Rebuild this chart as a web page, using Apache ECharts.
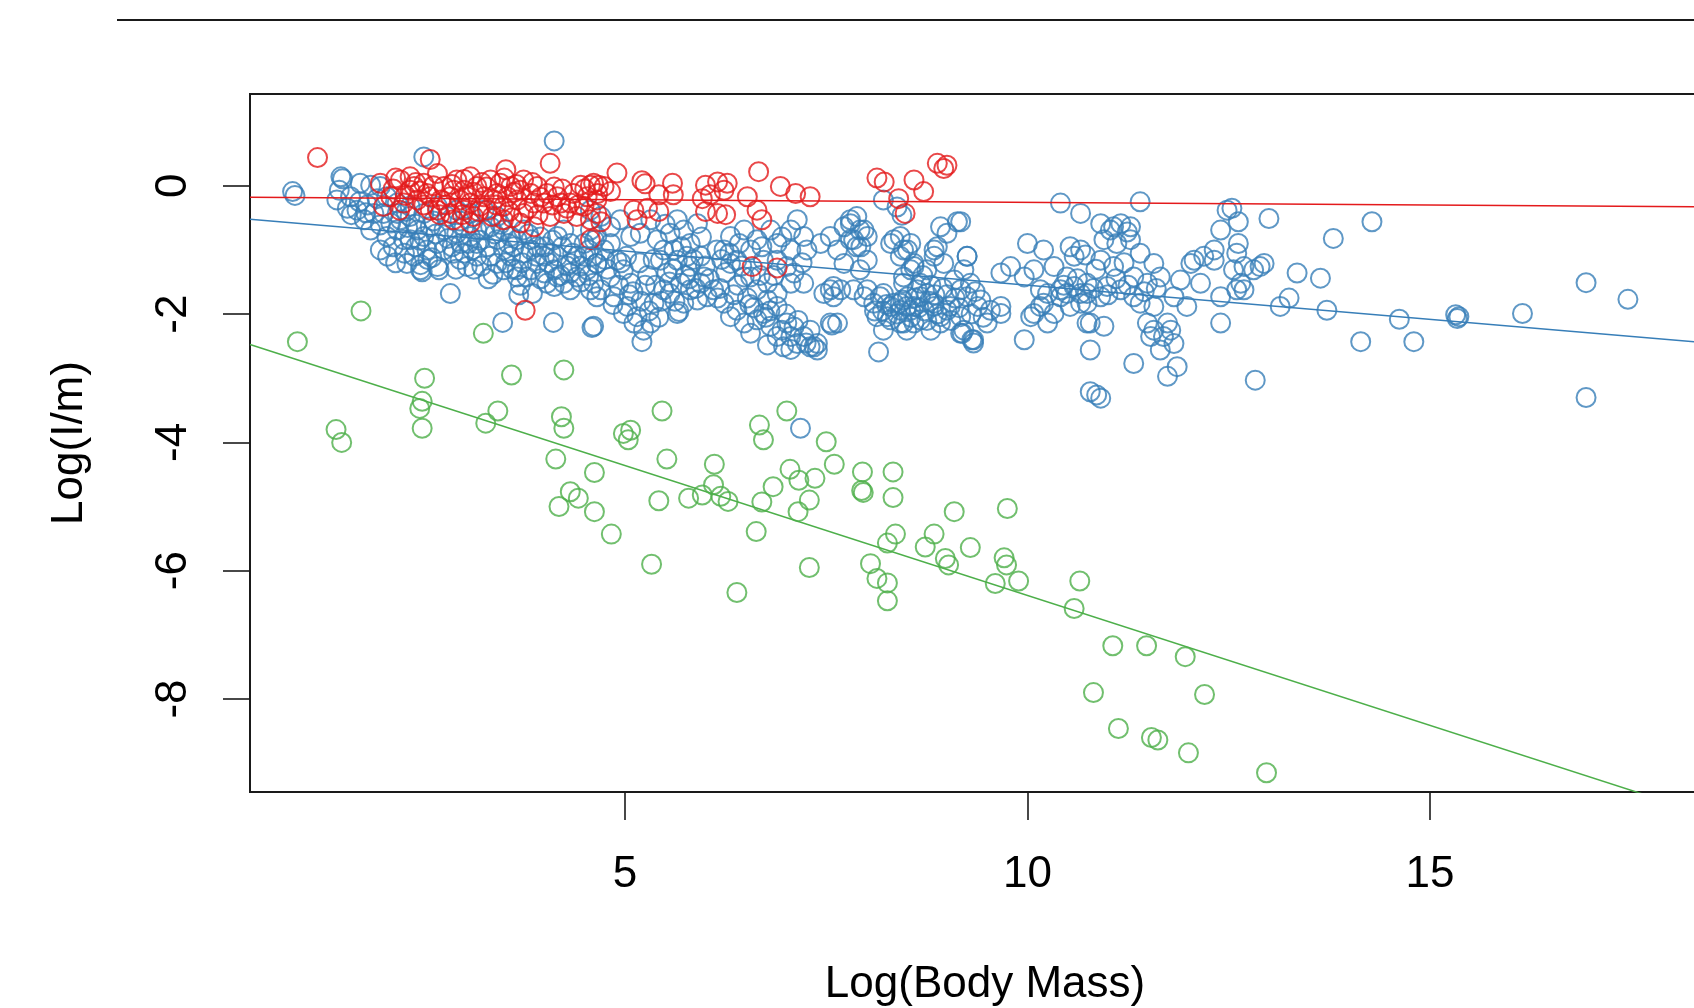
<!DOCTYPE html>
<html>
<head>
<meta charset="utf-8">
<script src="https://cdn.jsdelivr.net/npm/echarts@6/dist/echarts.min.js"></script>
<style>
html, body { margin: 0; padding: 0; background: #fff; }
#chart { width: 1694px; height: 1008px; }
</style>
</head>
<body>
<div id="chart"></div>
<script>
// scatter: Log(I/m) vs Log(Body Mass), three groups + fitted lines

var xTicks = [5, 10, 15];
var yTicks = [0, -2, -4, -6, -8];
var xRange = [0.341, 18.604];
var yRange = [-9.45, 1.431];

var groupColors = ['#377EB8', '#E41A1C', '#4DAF4A'];
// fitted lines: intercept, slope (blue, red, green)
var lineIntercepts = [-0.484, -0.177, -2.336];
var lineSlopes = [-0.1065, -0.0081, -0.405];

var bluePts = [
  [0.87,-0.09],[0.90,-0.15],[1.47,0.14],[1.49,0.11],[1.45,-0.07],[1.42,-0.22],[1.59,-0.17],[1.71,0.04],[1.84,0.01],[1.96,-0.01],
  [1.55,-0.35],[1.67,-0.38],[1.80,-0.30],[1.88,-0.43],[1.76,-0.53],[1.96,-0.61],[1.84,-0.69],[1.96,-1.0],[2.04,-0.79],[2.17,-0.69],
  [2.29,-1.21],[2.33,-0.84],[2.42,-0.69],[2.17,-0.43],[2.33,-0.32],[2.46,-1.23],[2.48,-1.34],[2.50,0.45],[2.54,-1.0],[2.67,-0.90],
  [2.75,-0.69],[2.58,-0.64],[2.50,-0.79],[2.67,-1.26],[2.83,-1.68],[2.87,-1.05],[2.96,-0.90],[2.91,-0.74],[3.08,-0.79],[3.04,-1.26],
  [3.16,-1.10],[3.29,-0.95],[3.25,-0.69],[3.41,-0.84],[3.49,-1.0],[3.58,-1.10],[3.41,-1.21],[3.08,-0.43],[3.25,-0.38],[3.41,-0.48],
  [2.91,-0.38],[3.68,-1.70],[3.85,-1.68],[3.66,-1.31],[3.78,-1.42],[3.91,-1.21],[3.74,-1.05],[3.91,-0.95],[4.0,-1.10],[4.12,-1.31],
  [4.16,-1.42],[4.03,-1.52],[4.12,-1.57],[3.48,-2.13],[4.11,-2.13],[4.59,-2.21],[4.12,0.70],[4.4,-1.10],[4.53,-1.31],[4.61,-1.52],
  [4.32,-1.36],[4.49,-0.90],[4.57,-0.69],[4.16,-0.79],[4.24,-0.69],[4.32,-0.90],[3.74,-0.69],[3.58,-0.79],[3.83,-0.84],
  [2.38,-1.10],[2.46,-1.31],[2.69,-1.31],
  [3.0,-0.64],[3.16,-0.69],[3.33,-0.64],[3.49,-0.69],[3.66,-0.84],[3.83,-1.0],[4.0,-0.95],[4.16,-1.10],[4.32,-1.21],[4.49,-1.10],
  [4.65,-1.21],[3.16,-0.90],[3.33,-1.10],[3.49,-1.31],[3.66,-1.42],[3.83,-1.31],[4.0,-1.36],[4.24,-1.52],[4.40,-1.42],[4.57,-1.62],
  [4.65,-1.73],[4.32,-1.62],
  [2.04,-0.17],[2.17,-0.27],[2.33,-0.48],[2.50,-0.43],[2.67,-0.32],[2.79,-0.48],[2.0,-0.43],[2.09,-0.58],[2.21,-0.53],[2.25,-0.84],
  [2.12,-0.95],[2.26,-1.05],[2.40,-0.95],[2.60,-1.12],[2.75,-1.00],[2.80,-0.82],[2.95,-1.15],[3.10,-1.00],[3.22,-1.25],[3.36,-1.38],
  [3.52,-1.20],[3.62,-0.95],[3.70,-1.55],[3.95,-1.45],[4.08,-1.05],[4.22,-0.95],[4.28,-1.25],[4.45,-1.25],[4.55,-1.0],[4.62,-0.85],
  [3.95,-0.80],[3.45,-0.60],[2.95,-0.55],[2.62,-0.55],[2.40,-0.60],[2.28,-0.40],[1.92,-0.20],[1.70,-0.25],[1.60,-0.45],[1.78,-0.42],
  [2.05,-1.10],[2.15,-1.20],[2.30,-0.65],[2.45,-0.85],[2.55,-1.15],[2.65,-0.75],[2.85,-0.95],[2.90,-1.30],[3.00,-1.05],[3.05,-0.90],
  [3.12,-1.30],[3.20,-0.85],[3.30,-1.45],[3.38,-0.75],[3.55,-0.90],[3.60,-1.30],[3.72,-1.20],[3.80,-0.75],[3.90,-1.10],[4.05,-1.20],
  [4.10,-0.85],[4.20,-1.40],[4.35,-1.05],[4.45,-1.50],[4.55,-1.40],[4.60,-1.10],
  [4.61,-2.19],[4.65,-1.21],[4.74,-1.0],[4.82,-1.42],[4.90,-1.16],[4.98,-1.31],[5.07,-1.52],[4.70,-1.62],[4.86,-1.73],[5.03,-1.88],
  [5.15,-2.04],[5.23,-2.25],[5.21,-2.43],[4.98,-1.99],[5.11,-2.14],[5.32,-2.14],[5.36,-1.83],
  [5.19,-0.74],[5.32,-0.53],[5.40,-0.84],[5.48,-1.0],[5.56,-0.74],[5.65,-0.53],[5.73,-0.69],[5.81,-0.90],[5.90,-0.59],[5.65,-1.16],
  [5.52,-1.36],[5.69,-1.52],[5.81,-1.26],[5.94,-1.10],[5.56,-1.68],[5.73,-1.83],[5.90,-1.78],[5.65,-1.99],
  [5.98,-1.42],[6.10,-1.62],[6.23,-1.83],[6.31,-2.04],[6.39,-1.94],[6.48,-2.14],[6.56,-2.30],[6.64,-2.09],[6.72,-1.99],[6.81,-2.19],
  [6.89,-2.35],[6.97,-2.51],[7.06,-2.35],[7.14,-2.46],[7.22,-2.35],[7.30,-2.51],[7.39,-2.56],[7.01,-2.14],[6.89,-1.88],[6.77,-1.78],
  [6.77,-2.48],[7.06,-2.55],[5.67,-1.96],
  [4.78,-1.30],[4.92,-1.55],[5.05,-1.70],[5.20,-1.80],[5.30,-1.95],[5.42,-2.05],[5.02,-1.10],[5.18,-1.20],[5.28,-1.40],[5.38,-1.55],
  [5.60,-1.30],[5.75,-1.40],[5.88,-1.60],[6.05,-1.45],[6.18,-1.60],[6.25,-1.35],[6.40,-1.55],[6.52,-1.75],[6.60,-1.90],[6.75,-2.05],
  [6.95,-2.25],[7.10,-2.20],[7.25,-2.45],[6.42,-0.90],[6.70,-0.95],[6.95,-0.80],[6.30,-1.05],[5.95,-0.80],[5.70,-0.95],[5.50,-0.60],
  [4.75,-1.15],[4.85,-1.85],[4.95,-1.20],[5.10,-1.65],[5.25,-1.55],[5.35,-1.15],[5.45,-1.80],[5.55,-1.50],[5.62,-1.80],[5.80,-1.45],
  [5.85,-1.15],[6.00,-1.25],[6.15,-1.75],[6.20,-1.15],[6.35,-1.70],[6.45,-1.25],[6.55,-1.85],[6.68,-1.40],[6.80,-1.95],[6.85,-1.40],
  [7.00,-2.00],[7.15,-2.10],[7.20,-1.20],[7.30,-2.25],
  [6.31,-0.79],[6.48,-0.69],[6.23,-1.0],[6.39,-1.16],[6.56,-1.0],[6.64,-0.84],[6.81,-0.69],[6.89,-0.90],[7.06,-0.69],[7.14,-0.53],
  [7.22,-0.79],[6.72,-1.16],[6.56,-1.42],[6.89,-1.16],[7.06,-1.0],[7.26,-1.0],
  [7.06,-1.52],[7.22,-1.52],[7.10,-1.36],[7.01,-1.26],[7.47,-1.68],[7.59,-1.57],[7.64,-2.14],
  [7.43,-0.90],[7.55,-0.79],[7.72,-0.64],[7.80,-0.53],[7.88,-0.48],[7.92,-0.69],[7.80,-0.84],[7.64,-1.0],[7.88,-0.95],[8.01,-1.16],
  [7.92,-1.31],[7.72,-1.21],
  [7.84,-1.62],[7.97,-1.73],[8.09,-1.83],[8.21,-1.68],[8.30,-1.88],[8.42,-1.94],[8.51,-1.73],[8.59,-1.88],[8.13,-2.04],[8.30,-2.09],
  [8.46,-2.14],[8.21,-2.25],[8.63,-1.62],[8.46,-1.52],[8.55,-1.31],[8.34,-0.84],[8.46,-1.0],[8.55,-0.90],
  [8.15,-2.59],[7.55,-2.14],[8.21,-0.22],[8.38,-0.33],
  [4.57,-0.38],[4.70,-0.48],[4.82,-0.64],[4.94,-0.53],[5.07,-0.79],[4.82,-0.90],[4.65,-0.79],
  [5.44,-1.16],[5.61,-1.0],[5.77,-1.10],[5.94,-1.52],[6.02,-1.73],[5.81,-1.62],[5.48,-1.62],
  [6.14,-1.0],[6.31,-1.21],[6.48,-1.42],[6.64,-1.62],[6.77,-1.52],[6.89,-1.68],
  [7.35,-2.51],[7.39,-2.46],[7.57,-2.17],[9.19,-2.30],[9.33,-2.45],[8.59,-2.14],[8.80,-2.25],[8.44,-0.46],[8.88,-0.95],
  [7.80,-0.59],[7.97,-0.69],[7.84,-0.84],[7.93,-0.95],[8.01,-0.79],[7.55,-1.62],[7.68,-1.62],[7.59,-1.73],
  [8.01,-1.62],[8.17,-1.73],[8.34,-1.83],[8.50,-1.88],[8.67,-1.73],[8.84,-1.83],[9.0,-1.94],[9.17,-2.04],[8.26,-2.04],[8.42,-2.14],
  [8.67,-2.09],[8.92,-2.14],[9.25,-1.73],[9.38,-1.88],
  [8.20,-1.95],[8.38,-2.00],[8.55,-2.05],[8.72,-1.95],[8.88,-2.0],[9.05,-2.10],[8.60,-1.75],[8.78,-1.80],[9.10,-1.75],[8.95,-1.60],
  [8.80,-1.55],[8.70,-1.40],[9.35,-1.65],[9.45,-2.05],
  [8.10,-1.95],[8.25,-1.85],[8.45,-1.78],[8.65,-1.90],[8.85,-1.70],[9.00,-1.70],[9.15,-1.90],[9.30,-2.00],[8.50,-2.25],[8.75,-2.10],
  [8.30,-0.90],[8.42,-1.10],[8.59,-1.21],[8.75,-1.31],[8.84,-1.10],
  [8.92,-0.64],[9.13,-0.56],[9.0,-0.74],
  [8.42,-0.79],[8.51,-1.0],[8.59,-1.26],[8.67,-1.52],[8.75,-1.68],[8.46,-1.42],[8.42,-1.83],[8.55,-1.94],[8.92,-2.04],[8.84,-1.88],
  [9.04,-1.88],[9.17,-1.62],[9.29,-1.52],[9.21,-1.31],[9.25,-1.10],[9.09,-1.47],[8.96,-1.21],[8.84,-1.0],[9.42,-1.78],[9.54,-1.94],
  [9.67,-1.99],[9.50,-2.14],[9.21,-2.25],[9.33,-2.40],[9.17,-2.30],[9.96,-2.40],
  [9.67,-1.36],[9.79,-1.26],[9.96,-1.42],[10.08,-1.31],[10.0,-0.90],[10.2,-1.0],[10.33,-1.26],[10.49,-1.42],[10.25,-1.68],[10.16,-1.88],
  [10.33,-1.99],[10.08,-1.99],[10.41,-1.73],[10.53,-0.95],[10.66,-1.0],[10.58,-1.10],
  [10.66,-0.43],[10.91,-0.59],[11.03,-0.69],[11.16,-0.59],[11.28,-0.64],[11.11,-0.90],[10.95,-0.84],[11.28,-0.84],[11.40,-1.05],[11.57,-1.21],
  [11.65,-1.42],[11.49,-1.52],[11.32,-1.42],[11.07,-1.26],[10.91,-1.16],[10.74,-1.52],[10.99,-1.57],[11.16,-1.62],[11.32,-1.73],[10.91,-1.73],
  [10.74,-1.68],[10.58,-1.57],[10.49,-1.68],[11.40,-1.83],[11.57,-1.88],[10.66,-1.83],
  [10.45,-1.55],[10.62,-1.45],[10.82,-1.60],[11.00,-1.70],[11.10,-1.45],[11.25,-1.55],[11.45,-1.65],[11.60,-1.60],[10.85,-1.30],[11.20,-1.20],
  [10.41,-0.27],[11.40,-0.25],
  [11.98,-1.88],[11.82,-1.73],[11.90,-1.47],[12.07,-1.16],[12.19,-1.10],[12.32,-1.16],[12.03,-1.21],[12.15,-1.52],[12.40,-1.73],[12.32,-1.0],
  [12.40,-0.69],[12.48,-0.38],[12.40,-2.14],
  [10.78,-2.56],[11.32,-2.77],[11.86,-2.82],[11.74,-2.97],
  [11.49,-2.14],[11.57,-2.25],[11.69,-2.35],[11.78,-2.25],[11.82,-2.46],[11.65,-2.56],[11.74,-2.14],
  [10.74,-2.14],[10.95,-2.19],[11.53,-2.35],
  [9.17,-0.56],[9.25,-1.10],[10.72,-1.08],[10.41,-1.62],[10.16,-1.62],[10.04,-2.04],[10.20,-1.83],[10.25,-2.14],[10.53,-1.88],[10.66,-1.68],
  [10.74,-1.83],[10.78,-2.14],[9.31,-2.40],[9.67,-1.88],[11.07,-0.64],[11.24,-0.72],
  [12.65,-1.52],[12.56,-1.31],[12.69,-1.26],[12.81,-1.31],[12.89,-1.26],[12.94,-1.21],[12.60,-1.62],[12.69,-1.62],[12.60,-1.05],[12.62,-0.90],
  [12.62,-0.56],[12.54,-0.35],[13.0,-0.51],[12.83,-3.03],[13.25,-1.75],[13.64,-1.44],[13.35,-1.36],[13.72,-1.94],[13.80,-0.82],[13.14,-1.88],
  [14.28,-0.56],[14.14,-2.43],[14.62,-2.08],[14.80,-2.43],[15.32,-2.01],[15.34,-2.07],[15.36,-2.04],[16.15,-1.99],[16.94,-1.51],[17.46,-1.77],
  [16.94,-3.30],[7.18,-3.78],[10.78,-3.21],[10.86,-3.26],[10.91,-3.31]
];

var redPts = [
  [1.18,0.44],[2.58,0.41],[3.52,0.25],[4.07,0.35],[2.87,-0.53],[3.08,-0.58],[4.57,-0.84],[3.76,-1.94],
  [1.96,0.04],[2.09,-0.17],[2.21,0.09],[2.33,-0.07],[2.42,-0.22],[2.50,0.04],[2.58,-0.17],[2.67,-0.38],[2.75,-0.01],[2.83,-0.17],
  [2.91,0.09],[3.0,-0.07],[3.08,-0.27],[3.16,-0.01],[3.25,-0.17],[3.33,0.09],[3.41,-0.12],[3.49,-0.32],[3.58,-0.01],[3.66,-0.22],
  [3.74,-0.43],[3.83,-0.12],[3.91,-0.01],[3.99,-0.27],[4.07,-0.48],[4.16,-0.17],[4.24,-0.43],[4.32,-0.27],[4.40,-0.48],[4.49,-0.32],
  [4.57,-0.53],[4.65,-0.43],[2.25,-0.27],[2.0,-0.32],[2.33,0.14],[2.67,0.19],[3.0,-0.38],[3.29,-0.38],[3.49,-0.53],[3.70,-0.58],
  [3.87,-0.64],[2.83,-0.43],[2.58,-0.38],[3.12,-0.48],
  [2.38,-0.01],[2.54,-0.12],[2.71,-0.22],[2.87,-0.07],[3.04,-0.17],[3.20,-0.32],[3.37,-0.22],[3.54,-0.17],[3.70,-0.07],[3.87,-0.27],
  [4.03,-0.12],[4.20,-0.27],[4.36,-0.12],[4.53,-0.17],[3.45,0.04],[3.08,0.14],[3.74,0.09],
  [2.12,-0.05],[2.27,-0.15],[2.45,-0.08],[2.62,0.00],[2.78,-0.30],[2.95,-0.22],[3.12,-0.10],[3.28,-0.02],[3.40,-0.30],[3.56,-0.40],
  [3.62,-0.10],[3.80,-0.35],[3.95,-0.18],[4.10,-0.30],[4.22,-0.05],[4.28,-0.35],[2.20,-0.38],[2.50,-0.30],[2.70,-0.45],[2.98,-0.45],
  [3.18,-0.40],[3.35,-0.48],[3.60,-0.50],[3.92,-0.45],[2.85,0.02],[3.00,0.10],[3.22,0.05],[3.50,0.12],[3.65,0.02],[3.85,0.05],
  [2.40,0.05],[2.15,0.12],[4.12,-0.02],[4.42,-0.30],[4.50,-0.05],
  [4.45,0.01],[4.57,0.01],[4.67,0.01],[4.61,0.04],[4.74,-0.01],[4.65,-0.22],
  [4.90,0.20],[5.21,0.08],[5.25,0.03],[5.59,0.04],[5.60,-0.14],[5.42,-0.14],[5.42,-0.40],[5.28,-0.35],[5.11,-0.38],[5.15,-0.53],
  [4.70,-0.56],[4.66,-0.12],[4.82,-0.09],[6.0,0.01],[6.15,0.06],[6.27,0.04],[6.23,-0.07],[5.96,-0.20],[6.06,-0.14],[6.0,-0.40],
  [6.15,-0.43],[6.25,-0.45],[6.66,0.22],[6.52,-0.17],[6.64,-0.38],[6.70,-0.53],[6.93,-0.01],[7.12,-0.12],[7.30,-0.17],[6.58,-1.26],
  [6.89,-1.28],[8.13,0.12],[8.22,0.06],[8.40,-0.20],[8.48,-0.43],[8.59,0.09],[8.88,0.35],[8.96,0.27],[9.0,0.32],[8.71,-0.09]
];

var greenPts = [
  [0.93,-2.43],[1.72,-1.95],[1.41,-3.80],[1.48,-4.00],[2.51,-3.00],[2.48,-3.36],[2.45,-3.47],[2.48,-3.78],[3.24,-2.30],[3.59,-2.95],
  [3.42,-3.51],[3.27,-3.70],[4.24,-2.87],[4.21,-3.60],[4.24,-3.78],[4.14,-4.26],[4.62,-4.47],[4.32,-4.77],[4.42,-4.87],[4.18,-5.00],
  [4.62,-5.08],[4.83,-5.43],[5.46,-3.51],[4.98,-3.86],[5.07,-3.81],[5.04,-3.96],[5.52,-4.26],[5.42,-4.91],[5.33,-5.90],[6.11,-4.34],
  [6.10,-4.66],[5.96,-4.82],[5.79,-4.87],[6.19,-4.84],[6.28,-4.92],[6.39,-6.34],[6.67,-3.73],[6.72,-3.96],[7.01,-3.51],[7.05,-4.42],
  [7.16,-4.59],[7.36,-4.56],[6.84,-4.69],[6.70,-4.93],[7.15,-5.08],[7.29,-4.90],[6.63,-5.39],[7.29,-5.95],[7.50,-3.99],[7.60,-4.34],
  [7.95,-4.46],[7.94,-4.75],[7.96,-4.78],[8.33,-4.46],[8.33,-4.86],[8.36,-5.43],[8.26,-5.57],[8.05,-5.89],[8.13,-6.12],[8.26,-6.19],
  [8.26,-6.47],[9.09,-5.08],[8.84,-5.43],[8.73,-5.63],[9.29,-5.64],[8.98,-5.81],[9.02,-5.91],[9.75,-5.03],[9.71,-5.80],[9.74,-5.91],
  [9.60,-6.20],[9.89,-6.16],[10.65,-6.16],[10.58,-6.59],[11.06,-7.17],[11.48,-7.17],[11.96,-7.34],[10.82,-7.90],[12.20,-7.93],[11.13,-8.46],
  [11.54,-8.60],[11.62,-8.64],[12.00,-8.84],[12.97,-9.15]
];

var font = 'Liberation Sans, Arial, sans-serif';
var groups = [bluePts, redPts, greenPts];

function fitLine(i) {
  var a = lineIntercepts[i], b = lineSlopes[i];
  return [[xRange[0], a + b * xRange[0]], [xRange[1], a + b * xRange[1]]];
}

var series = [];
groups.forEach(function (pts, i) {
  series.push({
    type: 'scatter',
    data: pts,
    symbol: 'circle',
    symbolSize: 19,
    itemStyle: { color: 'rgba(0,0,0,0)', borderColor: groupColors[i], borderWidth: 2 },
    emphasis: { disabled: true },
    z: 2
  });
});
groups.forEach(function (pts, i) {
  series.push({
    type: 'line',
    data: fitLine(i),
    symbol: 'none',
    clip: true,
    lineStyle: { color: groupColors[i], width: 1.5 },
    z: 3
  });
});

var chart = echarts.init(document.getElementById('chart'), null, { renderer: 'canvas' });
chart.setOption({
  animation: false,
  backgroundColor: '#fff',
  grid: {
    left: 250, top: 94, width: 1470, height: 698,
    outerBoundsMode: 'none',
    containLabel: false,
    show: true, borderColor: '#1a1a1a', borderWidth: 2, backgroundColor: 'transparent'
  },
  xAxis: {
    type: 'value',
    min: xRange[0], max: xRange[1],
    name: 'Log(Body Mass)',
    nameLocation: 'middle',
    nameGap: 171,
    nameTextStyle: { fontFamily: font, fontSize: 44, color: '#000' },
    axisLine: { show: false, onZero: false },
    splitLine: { show: false },
    axisTick: { show: true, inside: false, length: 28, customValues: xTicks, lineStyle: { color: '#1a1a1a', width: 1.6 } },
    axisLabel: { customValues: xTicks, margin: 61, fontFamily: font, fontSize: 44, color: '#000' }
  },
  yAxis: {
    type: 'value',
    min: yRange[0], max: yRange[1],
    name: 'Log(I/m)',
    nameLocation: 'middle',
    nameRotate: 90,
    nameGap: 158,
    nameTextStyle: { fontFamily: font, fontSize: 44, color: '#000' },
    axisLine: { show: false, onZero: false },
    splitLine: { show: false },
    axisTick: { show: true, inside: false, length: 27, customValues: yTicks, lineStyle: { color: '#1a1a1a', width: 1.6 } },
    axisLabel: { customValues: yTicks, rotate: 90, margin: 54, fontFamily: font, fontSize: 44, color: '#000' }
  },
  graphic: [{
    type: 'line',
    shape: { x1: 117, y1: 20, x2: 1694, y2: 20 },
    style: { stroke: '#1a1a1a', lineWidth: 2 }
  }],
  series: series
});
</script>
</body>
</html>
